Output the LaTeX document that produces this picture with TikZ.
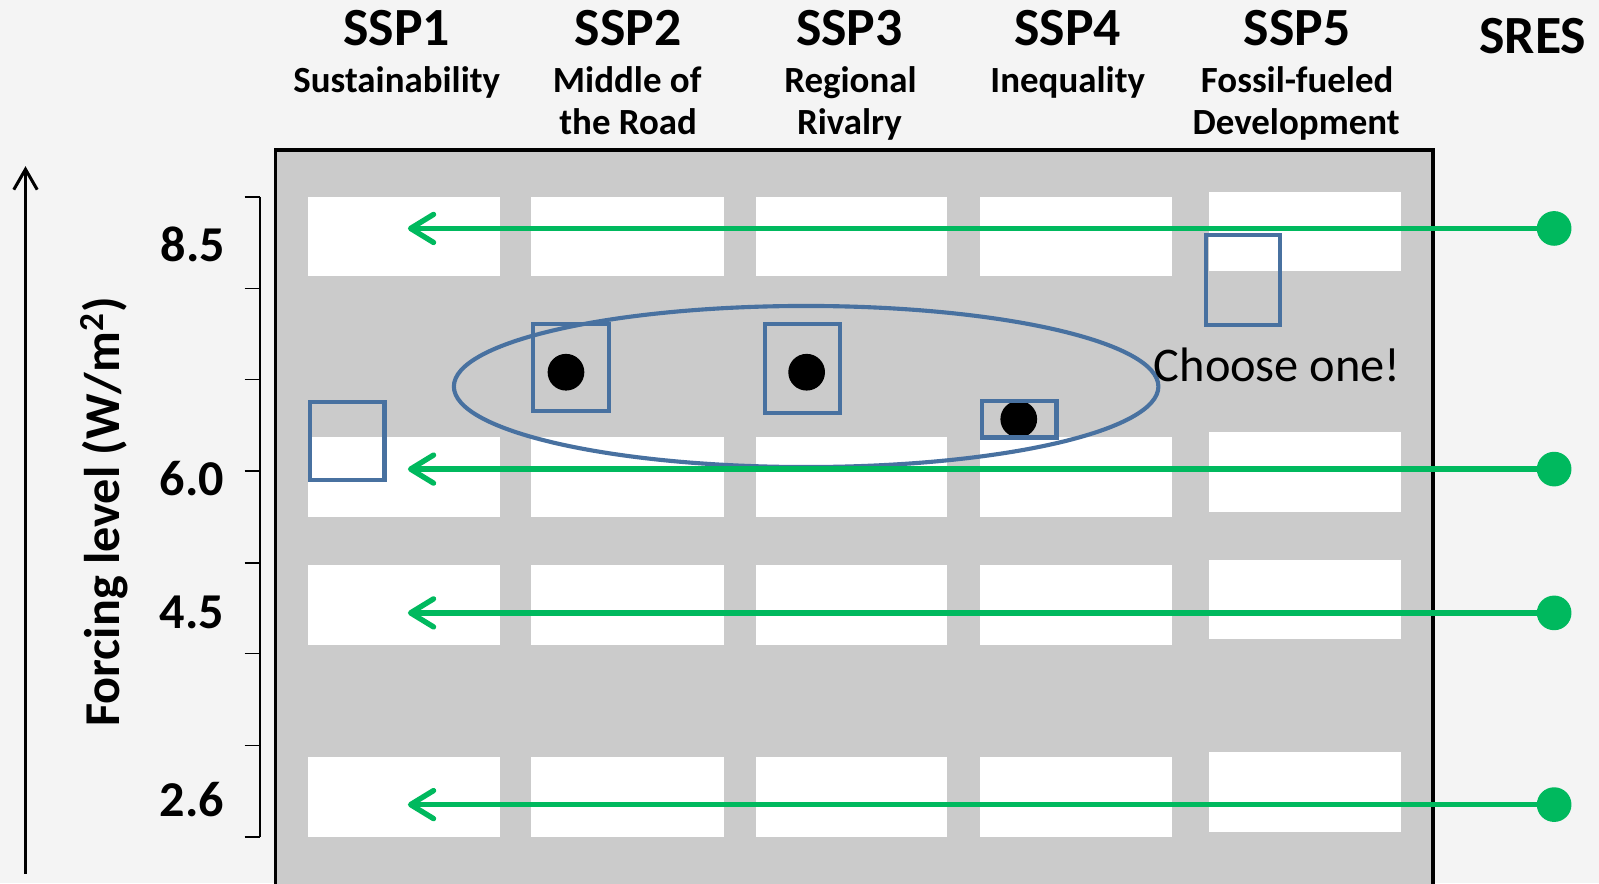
\documentclass[tikz,border=0pt]{standalone}
\usepackage{fontspec}
\setmainfont{Carlito}
\usetikzlibrary{arrows.meta}
\definecolor{bgc}{RGB}{244,244,244}
\definecolor{panel}{RGB}{203,203,203}
\definecolor{grn}{RGB}{0,185,94}
\definecolor{blu}{RGB}{72,113,160}
\begin{document}
\begin{tikzpicture}[x=0.02cm,y=-0.02cm,
  hd/.style={font=\fontsize{30}{36}\selectfont\bfseries, anchor=base, inner sep=0},
  sub/.style={font=\fontsize{20.6}{24}\selectfont\bfseries, anchor=base, inner sep=0},
  tlab/.style={font=\fontsize{28}{34}\selectfont\bfseries, anchor=base east, inner sep=0},
  cellfill/.style={fill=white},
  gdot/.style={circle, fill=grn, minimum size=0.68cm, inner sep=0},
  garrow/.style={draw=grn, line width=3pt, -{Straight Barb[length=0.45cm,width=0.55cm,round]}},
  bbox/.style={draw=blu, line width=2.3pt, rectangle, inner sep=0},
  bdot/.style={circle, fill=black, minimum size=0.72cm, inner sep=0},
  ticks/.style={line width=0.9pt},
  axarrow/.style={line width=1.7pt, -{Straight Barb[length=0.4cm,width=0.46cm]}}]
\fill[bgc] (0,0) rectangle (1568,866);
\useasboundingbox (0,0) rectangle (1568,866);
\clip (0,0) rectangle (1568,866);
% panel
\draw[line width=2pt, fill=panel] (270,147) rectangle (1405,920);
% white cells
\foreach \xa/\xb in {302/490,521/710,741/929,961/1149}{
  \foreach \ya/\yb in {193/271,429/507,554/632,742/821}{
    \fill[cellfill] (\xa,\ya) rectangle (\xb,\yb);}}
\foreach \ya/\yb in {188/266,424/502,549/627,737/816}{
  \fill[cellfill] (1186,\ya) rectangle (1374,\yb);}
% headings
\node[hd] (h1) at (389,45) {SSP1};
\node[hd] (h2) at (616,45) {SSP2};
\node[hd] (h3) at (833,45) {SSP3};
\node[hd] (h4) at (1047,45) {SSP4};
\node[hd] (h5) at (1272,45) {SSP5};
\node[hd] (hs) at (1503,52) {SRES};
\node[sub] (s1a) at (389,91) {Sustainability};
\node[sub] (s2a) at (615,91) {Middle of};
\node[sub] (s2b) at (616,132) {the Road};
\node[sub] (s3a) at (834,91) {Regional};
\node[sub] (s3b) at (833,132) {Rivalry};
\node[sub] (s4a) at (1047,91) {Inequality};
\node[sub] (s5a) at (1272,91) {Fossil-fueled};
\node[sub] (s5b) at (1271,132) {Development};
% axis
\coordinate (ab) at (25,857);
\coordinate (at) at (25,163);
\draw[axarrow] (ab) -- (at);
\node[font=\fontsize{28}{34}\selectfont\bfseries, rotate=90, anchor=base, inner sep=0] (fl) at (117,502) {Forcing level (W/m\textsuperscript{2})};
\draw[ticks] (255,193) -- (255,821);
\foreach \y in {193,283,372,462,552,641,731,821}{\draw[ticks] (240,\y) -- (255,\y);}
\node[tlab] (l85) at (221,256) {8.5};
\node[tlab] (l60) at (220,486) {6.0};
\node[tlab] (l45) at (220,616) {4.5};
\node[tlab] (l26) at (220,801) {2.6};
% dots and boxes
\node[bdot] (d2) at (555,365) {};
\node[bdot] (d3) at (791,365) {};
\node[bdot] (d4) at (999,411) {};
\node[bbox, minimum width=1.46cm, minimum height=1.54cm] (q1) at (340.5,432.5) {};
\node[bbox, minimum width=1.48cm, minimum height=1.70cm] (q2) at (560,360.5) {};
\node[bbox, minimum width=1.48cm, minimum height=1.74cm] (q3) at (787,361.5) {};
\node[bbox, minimum width=1.46cm, minimum height=0.72cm] (q4) at (999.5,411) {};
\node[bbox, minimum width=1.44cm, minimum height=1.78cm] (q5) at (1219,274.5) {};
\draw[blu, line width=2.3pt] (790.5,379) ellipse [x radius=6.91cm, y radius=1.58cm];
\node[font=\fontsize{27}{32}\selectfont, anchor=base, inner sep=0] (ch) at (1252.5,374) {Choose one!};
% green arrows
\foreach \i/\y in {1/224,2/460,3/601,4/789}{
  \node[gdot] (g\i) at (1524,\y) {};
  \coordinate (t\i) at (400,\y);
  \draw[garrow] (g\i.center) -- (t\i);
}
\end{tikzpicture}
\end{document}
